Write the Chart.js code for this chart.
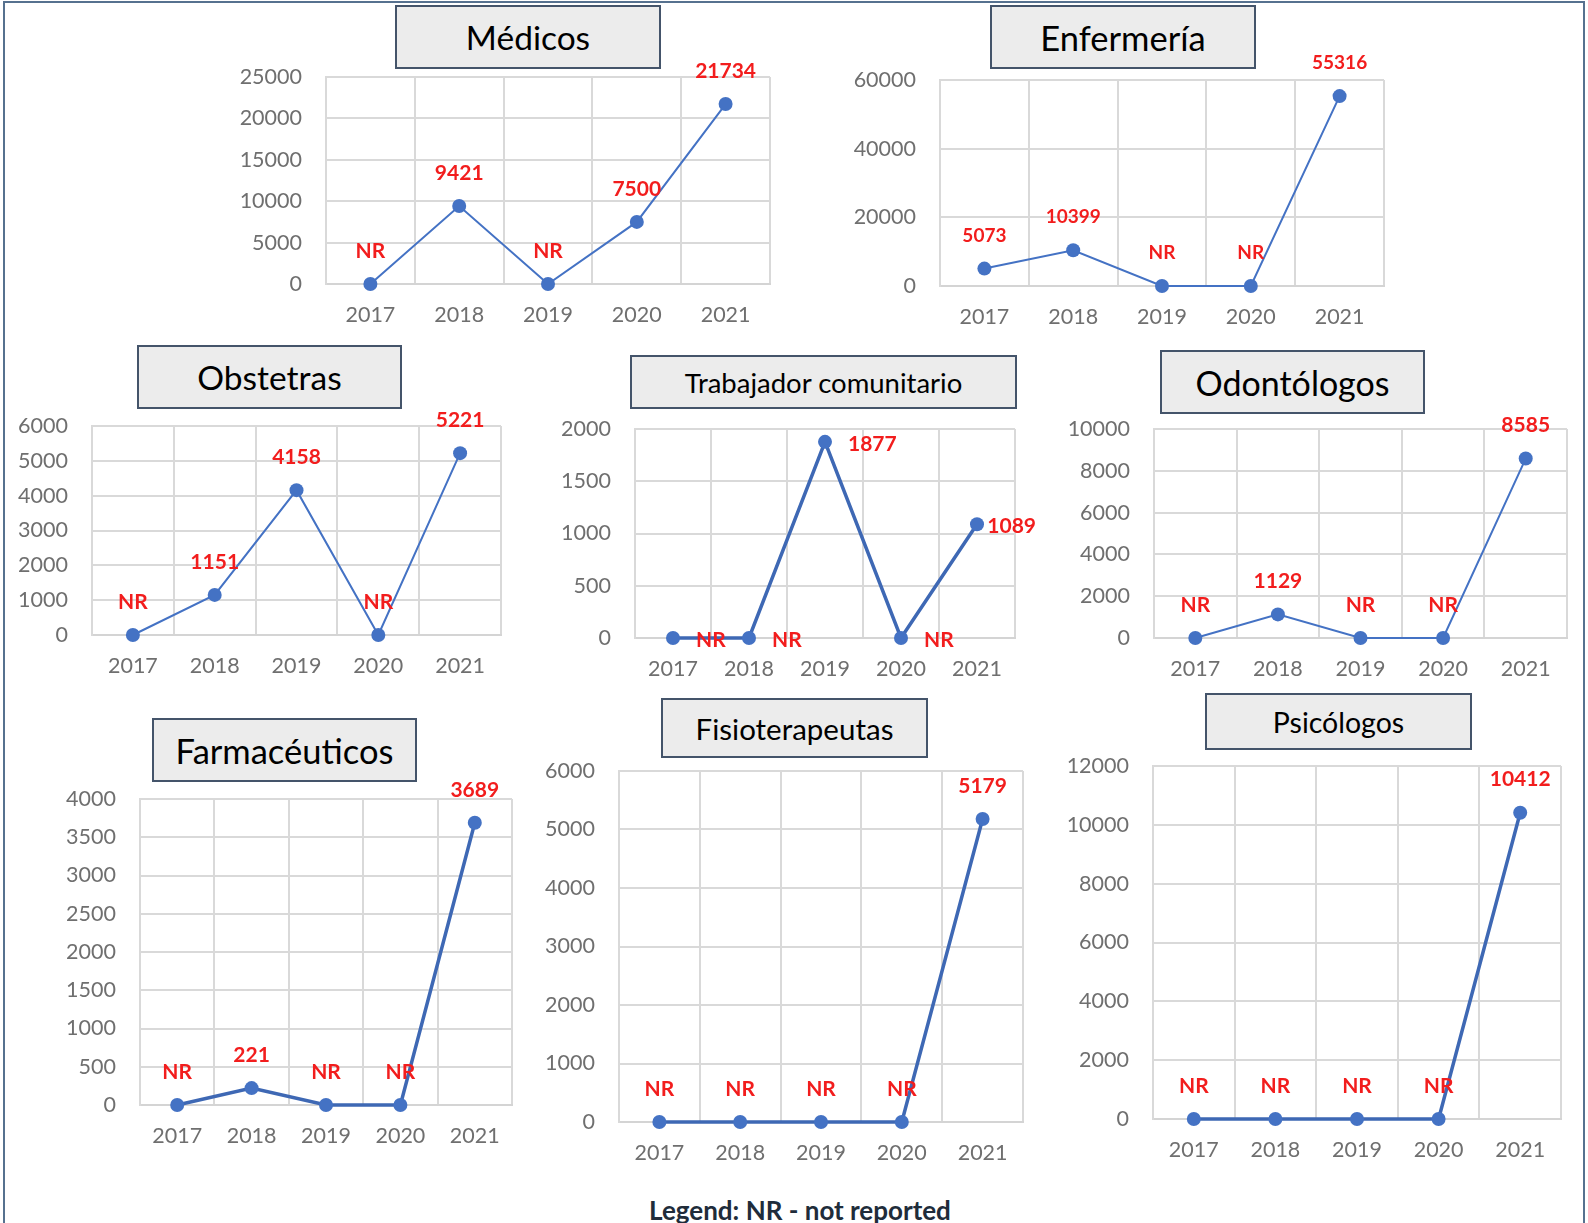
<!DOCTYPE html>
<html><head><meta charset="utf-8">
<script src="https://cdn.jsdelivr.net/npm/chart.js@4.4.1/dist/chart.umd.min.js"></script>
<style>
html,body{margin:0;padding:0;background:#fff;}
#page{position:relative;width:1588px;height:1223px;overflow:hidden;background:#fff;font-family:Lato,"Open Sans",sans-serif;}
#frame{position:absolute;left:3px;top:1px;width:1582px;height:1260px;border:2px solid #56718f;box-sizing:border-box;}
.cw{position:absolute;}
.ttl{position:absolute;box-sizing:border-box;background:#ececec;border:2px solid #44546a;display:flex;align-items:center;justify-content:center;color:#000;z-index:5;font-family:Lato,"Open Sans",sans-serif;white-space:nowrap;}
#legend{position:absolute;left:0;width:1600px;top:1195px;text-align:center;font:bold 26px Lato,"Open Sans",sans-serif;line-height:30px;color:#202c3a;}
</style>
</head><body>
<div id="page"><div id="frame"></div><div id="legend">Legend: NR - not reported</div></div>
<script>
// ---- data ----
const years = ["2017","2018","2019","2020","2021"];

const medicosValues = [0, 9421, 0, 7500, 21734];
const medicosLabels = ["NR","9421","NR","7500","21734"];
const medicosTicks = {max:25000, step:5000};

const enfermeriaValues = [5073, 10399, 0, 0, 55316];
const enfermeriaLabels = ["5073","10399","NR","NR","55316"];
const enfermeriaTicks = {max:60000, step:20000};

const obstetrasValues = [0, 1151, 4158, 0, 5221];
const obstetrasLabels = ["NR","1151","4158","NR","5221"];
const obstetrasTicks = {max:6000, step:1000};

const trabajadorValues = [0, 0, 1877, 0, 1089];
const trabajadorLabels = ["NR","NR","1877","NR","1089"];
const trabajadorTicks = {max:2000, step:500};

const odontologosValues = [0, 1129, 0, 0, 8585];
const odontologosLabels = ["NR","1129","NR","NR","8585"];
const odontologosTicks = {max:10000, step:2000};

const farmaceuticosValues = [0, 221, 0, 0, 3689];
const farmaceuticosLabels = ["NR","221","NR","NR","3689"];
const farmaceuticosTicks = {max:4000, step:500};

const fisioterapeutasValues = [0, 0, 0, 0, 5179];
const fisioterapeutasLabels = ["NR","NR","NR","NR","5179"];
const fisioterapeutasTicks = {max:6000, step:1000};

const psicologosValues = [0, 0, 0, 0, 10412];
const psicologosLabels = ["NR","NR","NR","NR","10412"];
const psicologosTicks = {max:12000, step:2000};

// ---- layout / style ----
const panels = [
  {title:"Médicos", values:medicosValues, labels:medicosLabels, ticks:medicosTicks,
   plot:{L:326,R:770,T:77,B:284}, box:{L:395,R:661,T:5,B:69}, tfs:33.5, lw:2},
  {title:"Enfermería", values:enfermeriaValues, labels:enfermeriaLabels, ticks:enfermeriaTicks,
   plot:{L:940,R:1384,T:80,B:286}, box:{L:990,R:1256,T:5,B:69}, tfs:34.5, lw:2, lfs:19},
  {title:"Obstetras", values:obstetrasValues, labels:obstetrasLabels, ticks:obstetrasTicks,
   plot:{L:92,R:501,T:426,B:635}, box:{L:137,R:402,T:345,B:409}, tfs:33.5, lw:2},
  {title:"Trabajador comunitario", values:trabajadorValues, labels:trabajadorLabels, ticks:trabajadorTicks,
   plot:{L:635,R:1015,T:429,B:638}, box:{L:630,R:1017,T:355,B:409}, tfs:27.5, lw:3.5, side:"right"},
  {title:"Odontólogos", values:odontologosValues, labels:odontologosLabels, ticks:odontologosTicks,
   plot:{L:1154,R:1567,T:429,B:638}, box:{L:1160,R:1425,T:350,B:414}, tfs:34, lw:2},
  {title:"Farmacéuticos", values:farmaceuticosValues, labels:farmaceuticosLabels, ticks:farmaceuticosTicks,
   plot:{L:140,R:512,T:799,B:1105}, box:{L:152,R:417,T:718,B:782}, tfs:34.5, lw:3.5},
  {title:"Fisioterapeutas", values:fisioterapeutasValues, labels:fisioterapeutasLabels, ticks:fisioterapeutasTicks,
   plot:{L:619,R:1023,T:771,B:1122}, box:{L:661,R:928,T:698,B:758}, tfs:29.5, lw:3.5},
  {title:"Psicólogos", values:psicologosValues, labels:psicologosLabels, ticks:psicologosTicks,
   plot:{L:1153,R:1561,T:766,B:1119}, box:{L:1205,R:1472,T:693,B:750}, tfs:28.5, lw:3.5}
];

const labelPlugin = {
  id:'vlabels',
  afterDatasetsDraw(chart, args, o){
    const meta = chart.getDatasetMeta(0);
    const ctx = chart.ctx;
    const area = chart.chartArea;
    ctx.save();
    ctx.font = 'bold ' + (o.size||21) + 'px Lato, "Open Sans", sans-serif';
    ctx.fillStyle = '#f21d1d';
    ctx.textBaseline = 'middle';
    meta.data.forEach((pt,i)=>{
      const t = o.labels[i];
      if(o.side === 'right'){
        ctx.textAlign = 'left';
        const w = ctx.measureText(t).width;
        let x = pt.x + 23;
        if (x + w > area.right + 21) x = area.right + 21 - w;
        ctx.fillText(t, x, pt.y + 2);
      } else {
        ctx.textAlign = 'center';
        ctx.fillText(t, pt.x, pt.y - 33);
      }
    });
    ctx.restore();
  }
};

const page = document.getElementById('page');
const padL = 110, padR = 80, padT = 50, padB = 50;
const gridColor = '#d9d9d9';
const tickColor = '#6f6f6f';
const tickFont = {family:'Lato, "Open Sans", sans-serif', size:21.5};

panels.forEach(p=>{
  const W = p.plot.R - p.plot.L + padL + padR;
  const H = p.plot.B - p.plot.T + padT + padB;
  const wrap = document.createElement('div');
  wrap.className = 'cw';
  wrap.style.left = (p.plot.L - padL) + 'px';
  wrap.style.top = (p.plot.T - padT) + 'px';
  wrap.style.width = W + 'px';
  wrap.style.height = H + 'px';
  const c = document.createElement('canvas');
  c.width = W; c.height = H;
  c.style.width = W + 'px'; c.style.height = H + 'px';
  wrap.appendChild(c);
  page.appendChild(wrap);

  const box = document.createElement('div');
  box.className = 'ttl';
  box.style.left = p.box.L + 'px';
  box.style.top = p.box.T + 'px';
  box.style.width = (p.box.R - p.box.L) + 'px';
  box.style.height = (p.box.B - p.box.T) + 'px';
  box.style.fontSize = p.tfs + 'px';
  box.textContent = p.title;
  page.appendChild(box);

  const blue = p.lw > 3 ? '#3e68b4' : '#4472c4';
  new Chart(c, {
    type:'line',
    data:{labels:years, datasets:[{
      data:p.values, borderColor:blue, backgroundColor:blue,
      borderWidth:p.lw, pointRadius:7, pointBackgroundColor:'#4472c4',
      pointBorderWidth:0, tension:0, clip:false
    }]},
    options:{
      responsive:false, animation:false, devicePixelRatio:1,
      layout:{padding:{left:0,right:padR,top:padT,bottom:0}},
      plugins:{legend:{display:false}, tooltip:{enabled:false},
        vlabels:{labels:p.labels, side:p.side, size:p.lfs}},
      scales:{
        x:{offset:true,
           grid:{offset:true, color:gridColor, lineWidth:2, drawTicks:false},
           border:{display:true, color:'#d4d4d4', width:2},
           ticks:{padding:18, color:tickColor, font:tickFont},
           afterFit(s){ s.height = padB; }},
        y:{min:0, max:p.ticks.max,
           grid:{color:gridColor, lineWidth:2, drawTicks:false},
           border:{display:true, color:'#d9d9d9', width:2},
           ticks:{stepSize:p.ticks.step, padding:24, color:tickColor, font:tickFont,
                  callback:(v)=>String(v)},
           afterFit(s){ s.width = padL; }}
      }
    },
    plugins:[labelPlugin]
  });
});
</script>
</body></html>
